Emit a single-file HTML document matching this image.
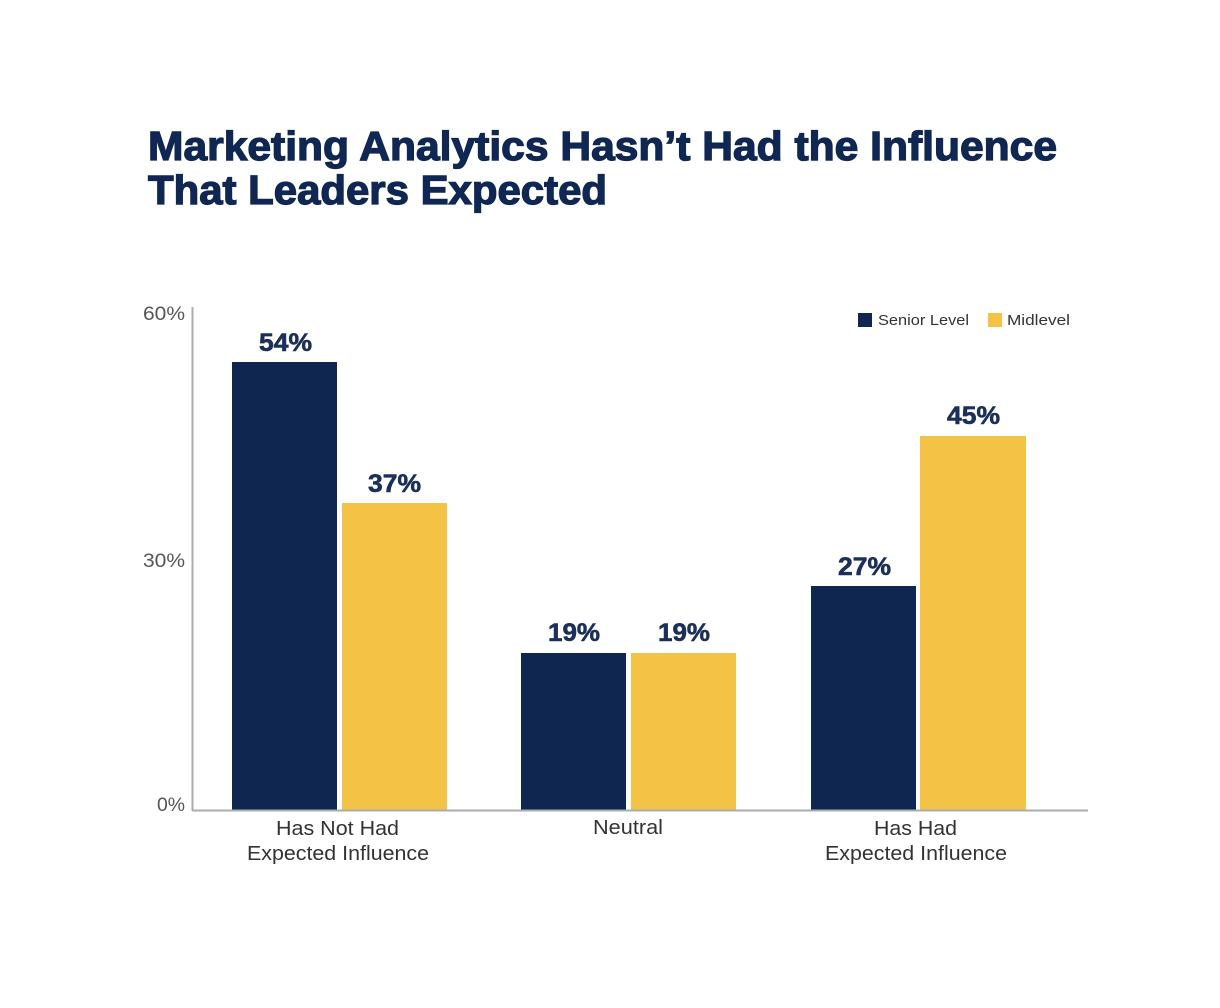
<!DOCTYPE html>
<html>
<head>
<meta charset="utf-8">
<style>
  html,body{margin:0;padding:0;background:#fff;}
  svg{display:block;}
</style>
</head>
<body>
<svg width="1220" height="1008" viewBox="0 0 1220 1008" xmlns="http://www.w3.org/2000/svg">
  <rect width="1220" height="1008" fill="#ffffff"/>
  <!-- Title -->
  <g font-family="Liberation Sans, Arial, sans-serif" font-weight="700" fill="#0f2752" stroke="#0f2752" stroke-width="1.3" font-size="41">
    <text x="148" y="160" textLength="909" lengthAdjust="spacingAndGlyphs">Marketing Analytics Hasn’t Had the Influence</text>
    <text x="148" y="204" textLength="459" lengthAdjust="spacingAndGlyphs">That Leaders Expected</text>
  </g>

  <!-- Bars -->
  <g>
    <rect x="232" y="362" width="105" height="448" fill="#0f2650"/>
    <rect x="342" y="503" width="105" height="307" fill="#f4c244"/>
    <rect x="521" y="653" width="105" height="157" fill="#0f2650"/>
    <rect x="631" y="653" width="105" height="157" fill="#f4c244"/>
    <rect x="811" y="586" width="105" height="224" fill="#0f2650"/>
    <rect x="920" y="436" width="106" height="374" fill="#f4c244"/>
  </g>

  <!-- Axes -->
  <line x1="192.5" y1="307" x2="192.5" y2="811" stroke="#a9aeae" stroke-width="2"/>
  <line x1="192" y1="810.5" x2="1088" y2="810.5" stroke="#a9aeae" stroke-width="2"/>

  <!-- Y tick labels -->
  <g font-family="Liberation Sans, Arial, sans-serif" font-size="19" fill="#555">
    <text x="143" y="320" textLength="42" lengthAdjust="spacingAndGlyphs">60%</text>
    <text x="143" y="567" textLength="42" lengthAdjust="spacingAndGlyphs">30%</text>
    <text x="157" y="811" textLength="28" lengthAdjust="spacingAndGlyphs">0%</text>
  </g>

  <!-- Value labels -->
  <g font-family="Liberation Sans, Arial, sans-serif" font-weight="700" font-size="25" fill="#1b2f5a" stroke="#1b2f5a" stroke-width="0.6">
    <text x="259" y="351" textLength="53" lengthAdjust="spacingAndGlyphs">54%</text>
    <text x="368" y="492" textLength="53" lengthAdjust="spacingAndGlyphs">37%</text>
    <text x="548" y="641" textLength="52" lengthAdjust="spacingAndGlyphs">19%</text>
    <text x="658" y="641" textLength="52" lengthAdjust="spacingAndGlyphs">19%</text>
    <text x="838" y="575" textLength="53" lengthAdjust="spacingAndGlyphs">27%</text>
    <text x="947" y="424" textLength="53" lengthAdjust="spacingAndGlyphs">45%</text>
  </g>

  <!-- Category labels -->
  <g font-family="Liberation Sans, Arial, sans-serif" font-size="20" fill="#333">
    <text x="276" y="835" textLength="123" lengthAdjust="spacingAndGlyphs">Has Not Had</text>
    <text x="247" y="860" textLength="182" lengthAdjust="spacingAndGlyphs">Expected Influence</text>
    <text x="593" y="834" textLength="70" lengthAdjust="spacingAndGlyphs">Neutral</text>
    <text x="874" y="835" textLength="83" lengthAdjust="spacingAndGlyphs">Has Had</text>
    <text x="825" y="860" textLength="182" lengthAdjust="spacingAndGlyphs">Expected Influence</text>
  </g>

  <!-- Legend -->
  <rect x="858" y="313" width="14" height="14" fill="#0f2650"/>
  <text x="878" y="325" font-family="Liberation Sans, Arial, sans-serif" font-size="15" fill="#333" textLength="91" lengthAdjust="spacingAndGlyphs">Senior Level</text>
  <rect x="988" y="313" width="14" height="14" fill="#f4c244"/>
  <text x="1007" y="325" font-family="Liberation Sans, Arial, sans-serif" font-size="15" fill="#333" textLength="63" lengthAdjust="spacingAndGlyphs">Midlevel</text>
</svg>
</body>
</html>
